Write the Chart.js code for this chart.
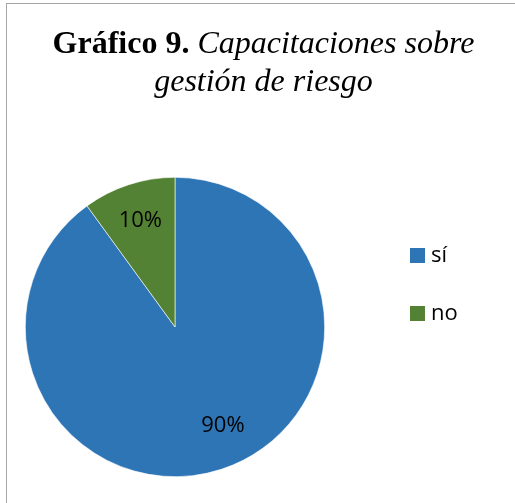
<!DOCTYPE html>
<html>
<head>
<meta charset="utf-8">
<script src="https://cdn.jsdelivr.net/npm/chart.js@4"></script>
<style>
    html, body { margin: 0; padding: 0; background: #fff; }
    #wrap { position: relative; width: 515px; height: 503px; overflow: hidden; }
    #frame {
        position: absolute; left: 6px; top: 3px; width: 520px; height: 510px;
        border: 1px solid #a6a6a6; box-sizing: border-box;
    }
    #title {
        position: absolute; left: 6px; top: 23px; width: 515px; text-align: center;
        font-family: "Liberation Serif", "Times New Roman", serif; font-size: 32px;
        line-height: 38px; color: #000;
    }
    #title b { font-weight: bold; }
    #title i { font-style: italic; }
    canvas { position: absolute; left: 0; top: 0; }
</style>
</head>
<body>
<div id="wrap">
    <div id="frame"></div>
    <canvas id="pie" width="515" height="503"></canvas>
    <div id="title"><b>Gráfico 9.</b> <i>Capacitaciones sobre<br>gestión de riesgo</i></div>
</div>
<script>
const labels = ['sí', 'no'];
const values = [90, 10];
const colors = ['#2e75b6', '#548235'];

// percentage labels inside the slices (Excel "best fit" puts the big one a bit off-centre)
const labelNudge = [-8, 0];   // degrees
const labelRadius = [0.73, 0.75];

const sliceLabels = {
    id: 'sliceLabels',
    afterDatasetsDraw(chart) {
        const ctx = chart.ctx;
        const meta = chart.getDatasetMeta(0);
        const total = values.reduce((a, b) => a + b, 0);
        ctx.save();
        ctx.font = '22px "Open Sans", "Noto Sans", sans-serif';
        ctx.fillStyle = '#000';
        ctx.textAlign = 'center';
        ctx.textBaseline = 'middle';
        meta.data.forEach((arc, i) => {
            const mid = (arc.startAngle + arc.endAngle) / 2 + labelNudge[i] * Math.PI / 180;
            const r = arc.outerRadius * labelRadius[i];
            const x = arc.x + Math.cos(mid) * r;
            const y = arc.y + Math.sin(mid) * r;
            ctx.fillText(Math.round(values[i] / total * 100) + '%', x, y + 1);
        });
        ctx.restore();
    }
};

// legend on the right, squares + labels
const sideLegend = {
    id: 'sideLegend',
    afterDraw(chart) {
        const ctx = chart.ctx;
        ctx.save();
        ctx.font = '22px "Open Sans", "Noto Sans", sans-serif';
        ctx.textBaseline = 'middle';
        ctx.textAlign = 'left';
        labels.forEach((lab, i) => {
            const y = 256 + i * 58;
            ctx.fillStyle = colors[i];
            ctx.fillRect(410, y - 8, 15, 15);
            ctx.fillStyle = '#000';
            ctx.fillText(lab, 431, y);
        });
        ctx.restore();
    }
};

new Chart(document.getElementById('pie'), {
    type: 'pie',
    data: {
        labels,
        datasets: [{
            data: values,
            backgroundColor: colors,
            borderColor: '#ffffff',
            borderWidth: 0.6
        }]
    },
    options: {
        responsive: false,
        animation: false,
        layout: { padding: { left: 25, right: 190, top: 177, bottom: 26 } },
        plugins: {
            legend: { display: false },
            tooltip: { enabled: false }
        }
    },
    plugins: [sliceLabels, sideLegend]
});
</script>
</body>
</html>
